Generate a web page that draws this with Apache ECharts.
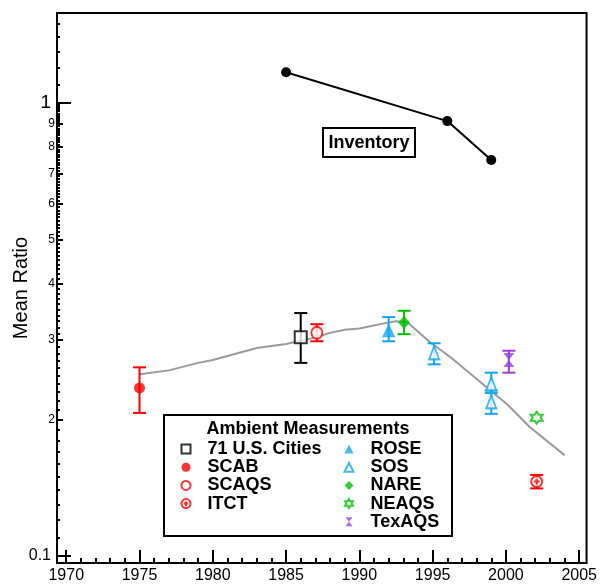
<!DOCTYPE html>
<html><head><meta charset="utf-8">
<script src="https://cdn.jsdelivr.net/npm/echarts@6/dist/echarts.min.js"></script>
<style>html,body{margin:0;padding:0;background:#fff}#c{width:600px;height:588px}</style>
</head><body><div id="c"></div>
<script>
// ---- data ----
const modelYears = [1975, 1977, 1979, 1980, 1983, 1985, 1987, 1988, 1989, 1990, 1991.6, 1992.5, 1993.3, 1994.8, 1996.2, 1997.8, 2000.1, 2001.6, 2004];
const modelVals  = [0.252, 0.257, 0.267, 0.271, 0.288, 0.294, 0.304, 0.311, 0.316, 0.318, 0.326, 0.330, 0.328, 0.297, 0.275, 0.249, 0.216, 0.193, 0.167];

const invYears = [1985, 1996, 1999];
const invVals  = [1.17, 0.913, 0.749];

const citiesYears = [1986];   const citiesVals = [0.304]; const citiesLo = [0.267]; const citiesHi = [0.344];
const scabYears   = [1975];   const scabVals   = [0.235]; const scabLo   = [0.207]; const scabHi   = [0.261];
const scaqsYears  = [1987.1]; const scaqsVals  = [0.311]; const scaqsLo  = [0.298]; const scaqsHi  = [0.325];
const itctYears   = [2002.1]; const itctVals   = [0.146]; const itctLo   = [0.141]; const itctHi   = [0.151];
const roseYears   = [1992];   const roseVals   = [0.315]; const roseLo   = [0.298]; const roseHi   = [0.337];
const sosYears    = [1995.1, 1999, 1999]; const sosVals = [0.281, 0.240, 0.219]; const sosLo = [0.265, 0.229, 0.206]; const sosHi = [0.295, 0.254, 0.232];
const nareYears   = [1993.05]; const nareVals  = [0.328]; const nareLo   = [0.309]; const nareHi   = [0.348];
const neaqsYears  = [2002.1]; const neaqsVals  = [0.202];
const texYears    = [2000.2]; const texVals    = [0.271]; const texLo    = [0.254]; const texHi    = [0.284];

const xMajorTicks = [1970, 1975, 1980, 1985, 1990, 1995, 2000, 2005];
const xMinorTicks = [];
for (let y = 1970; y <= 2005; y++) xMinorTicks.push(y);
const yMajorTicks = [0.1, 1];
const yMidTicks = [0.2, 0.3, 0.4, 0.5, 0.6, 0.7, 0.8, 0.9];
const ySmallTicks = [];
for (let i = 11; i <= 99; i++) ySmallTicks.push(i / 100);
[1.1, 1.2, 1.3, 1.4, 1.5].forEach(v => ySmallTicks.push(v));

const Y_MIN = 0.0965, Y_MAX = 1.582;
const FONT = "'Liberation Sans', Arial, sans-serif";

const RED = '#ff0000', BLUE = '#12a6f2', GREEN = '#00c000', PURPLE = '#9b3fe4';

function pairs(xs, ys) { return xs.map((x, i) => [x, ys[i]]); }
function triples(xs, lo, hi) { return xs.map((x, i) => [x, lo[i], hi[i]]); }

function errRender(params, api) {
  const x = api.value(0), lo = api.value(1), hi = api.value(2);
  const p1 = api.coord([x, lo]), p2 = api.coord([x, hi]);
  const w = 6.5;
  const style = { stroke: api.visual('color'), lineWidth: 2, fill: null };
  return { type: 'group', children: [
    { type: 'line', shape: { x1: p1[0], y1: p1[1], x2: p2[0], y2: p2[1] }, style },
    { type: 'line', shape: { x1: p1[0] - w, y1: p1[1], x2: p1[0] + w, y2: p1[1] }, style },
    { type: 'line', shape: { x1: p2[0] - w, y1: p2[1], x2: p2[0] + w, y2: p2[1] }, style }
  ]};
}
function errSeries(xs, lo, hi, color) {
  return { type: 'custom', renderItem: errRender, xAxisIndex: 0, yAxisIndex: 0,
    itemStyle: { color }, encode: { x: 0, y: [1, 2] }, data: triples(xs, lo, hi), z: 3, silent: true };
}
function scatter(name, xs, ys, symbol, size, itemStyle) {
  return { name, type: 'scatter', xAxisIndex: 0, yAxisIndex: 0, symbol, symbolSize: size,
    itemStyle, data: pairs(xs, ys), z: 5 };
}

const lg = v => Math.log10(v);
const decoY = (ticks, len, labelOpts) => ({
  type: 'value', position: 'left', min: lg(Y_MIN), max: lg(Y_MAX),
  axisLine: { show: false, onZero: false }, splitLine: { show: false },
  axisTick: { show: true, inside: true, length: len, customValues: ticks.map(lg), lineStyle: { color: '#000', width: 2 } },
  axisLabel: labelOpts ? Object.assign({ customValues: ticks.map(lg) }, labelOpts) : { show: false }
});

const ITCT_PATH = 'path://M0,-5A5,5 0 1 1 0,5A5,5 0 1 1 0,-5ZM-2.6,0L2.6,0M0,-2.6L0,2.6';
const STAR_PATH = 'path://M0,-6L1.73,-3L5.2,-3L3.46,0L5.2,3L1.73,3L0,6L-1.73,3L-5.2,3L-3.46,0L-5.2,-3L-1.73,-3Z';
const HOUR_PATH = 'path://M0,0L10,0L0,13L10,13Z';

const chart = echarts.init(document.getElementById('c'));
chart.setOption({
  backgroundColor: '#fff',
  animation: false,
  textStyle: { fontFamily: FONT },
  grid: { left: 57, right: 11, top: 13, bottom: 25, show: true, borderColor: '#000', borderWidth: 2, backgroundColor: 'transparent' },
  xAxis: [
    { type: 'value', min: 1969.37, max: 2005.5, position: 'bottom',
      axisLine: { show: true, onZero: false, lineStyle: { color: '#000', width: 2 } },
      splitLine: { show: false },
      axisTick: { show: true, inside: true, length: 13, customValues: xMajorTicks, lineStyle: { color: '#000', width: 2 } },
      axisLabel: { customValues: xMajorTicks, color: '#000', fontSize: 16, fontFamily: FONT, margin: 5, formatter: v => String(v) } },
    { type: 'value', min: 1969.37, max: 2005.5, position: 'bottom',
      axisLine: { show: false, onZero: false }, splitLine: { show: false },
      axisTick: { show: true, inside: true, length: 5, customValues: xMinorTicks, lineStyle: { color: '#000', width: 2 } },
      axisLabel: { show: false } }
  ],
  yAxis: [
    { type: 'log', logBase: 10, min: Y_MIN, max: Y_MAX, position: 'left',
      name: 'Mean Ratio', nameLocation: 'middle', nameRotate: 90, nameGap: 26,
      nameTextStyle: { fontSize: 20, color: '#000', fontFamily: FONT },
      axisLine: { show: true, onZero: false, lineStyle: { color: '#000', width: 2 } },
      axisTick: { show: false }, axisLabel: { show: false }, splitLine: { show: false } },
    decoY(yMajorTicks, 14, { color: '#000', fontFamily: FONT, margin: 6,
      formatter: v => (Math.abs(v) < 1e-9 ? '{b|1}' : '{m|0.1}'),
      rich: { b: { fontSize: 19, fontFamily: FONT, color: '#000' }, m: { fontSize: 16, fontFamily: FONT, color: '#000' } } }),
    decoY(yMidTicks, 6, { color: '#000', fontFamily: FONT, fontSize: 12, margin: 2,
      formatter: v => String(Math.round(Math.pow(10, v) * 10)) }),
    decoY(ySmallTicks, 3, null)
  ],
  legend: [
    { orient: 'vertical', left: 180.5, top: 440, padding: 0, itemGap: 0.2, itemWidth: 9, itemHeight: 9,
      selectedMode: false,
      textStyle: { fontSize: 18, fontWeight: 'bold', fontFamily: FONT, color: '#000', lineHeight: 18, padding: [0, 0, 0, 12] },
      data: ['71 U.S. Cities', 'SCAB', 'SCAQS', 'ITCT'] },
    { orient: 'vertical', left: 343.5, top: 440, padding: 0, itemGap: 0.2, itemWidth: 9, itemHeight: 9,
      selectedMode: false,
      textStyle: { fontSize: 18, fontWeight: 'bold', fontFamily: FONT, color: '#000', lineHeight: 18, padding: [0, 0, 0, 12] },
      data: ['ROSE', 'SOS', 'NARE', 'NEAQS', 'TexAQS'] }
  ],
  graphic: [
    { type: 'rect', shape: { x: 164, y: 415, width: 288, height: 121 }, style: { fill: '#fff', stroke: '#000', lineWidth: 2 }, z: 1 },
    { type: 'text', x: 308, y: 429, style: { text: 'Ambient Measurements', fontSize: 18, fontWeight: 'bold', fontFamily: FONT, fill: '#000', align: 'center', verticalAlign: 'middle' }, z: 2 },
    { type: 'rect', shape: { x: 323, y: 128, width: 92, height: 29 }, style: { fill: '#fff', stroke: '#000', lineWidth: 2 }, z: 1 },
    { type: 'text', x: 369, y: 143, style: { text: 'Inventory', fontSize: 18, fontWeight: 'bold', fontFamily: FONT, fill: '#000', align: 'center', verticalAlign: 'middle' }, z: 2 }
  ],
  series: [
    { name: 'Model', type: 'line', xAxisIndex: 0, yAxisIndex: 0, data: pairs(modelYears, modelVals),
      showSymbol: false, symbol: 'none', lineStyle: { color: '#999', width: 2 }, z: 2, silent: true },
    { name: 'Inventory', type: 'line', xAxisIndex: 0, yAxisIndex: 0, data: pairs(invYears, invVals),
      symbol: 'circle', symbolSize: 10, itemStyle: { color: '#000' }, lineStyle: { color: '#000', width: 2 }, z: 4 },
    errSeries(citiesYears, citiesLo, citiesHi, '#000'),
    errSeries(scabYears, scabLo, scabHi, RED),
    errSeries(scaqsYears, scaqsLo, scaqsHi, RED),
    errSeries(itctYears, itctLo, itctHi, RED),
    errSeries(roseYears, roseLo, roseHi, BLUE),
    errSeries(sosYears, sosLo, sosHi, BLUE),
    errSeries(nareYears, nareLo, nareHi, GREEN),
    errSeries(texYears, texLo, texHi, PURPLE),
    scatter('71 U.S. Cities', citiesYears, citiesVals, 'rect', 12, { color: '#fff', borderColor: '#000', borderWidth: 2 }),
    scatter('SCAB', scabYears, scabVals, 'circle', 11, { color: RED }),
    scatter('SCAQS', scaqsYears, scaqsVals, 'circle', [11, 12], { color: '#fff', borderColor: RED, borderWidth: 2 }),
    scatter('ITCT', itctYears, itctVals, ITCT_PATH, 11, { color: '#fff', borderColor: RED, borderWidth: 2 }),
    scatter('ROSE', roseYears, roseVals, 'triangle', [13, 14], { color: BLUE }),
    scatter('SOS', sosYears, sosVals, 'triangle', [10, 13], { color: '#fff', borderColor: BLUE, borderWidth: 2 }),
    scatter('NARE', nareYears, nareVals, 'diamond', [12, 13], { color: GREEN }),
    scatter('NEAQS', neaqsYears, neaqsVals, STAR_PATH, 12, { color: '#fff', borderColor: GREEN, borderWidth: 2 }),
    scatter('TexAQS', texYears, texVals, HOUR_PATH, [11, 14], { color: PURPLE })
  ]
});
</script></body></html>
